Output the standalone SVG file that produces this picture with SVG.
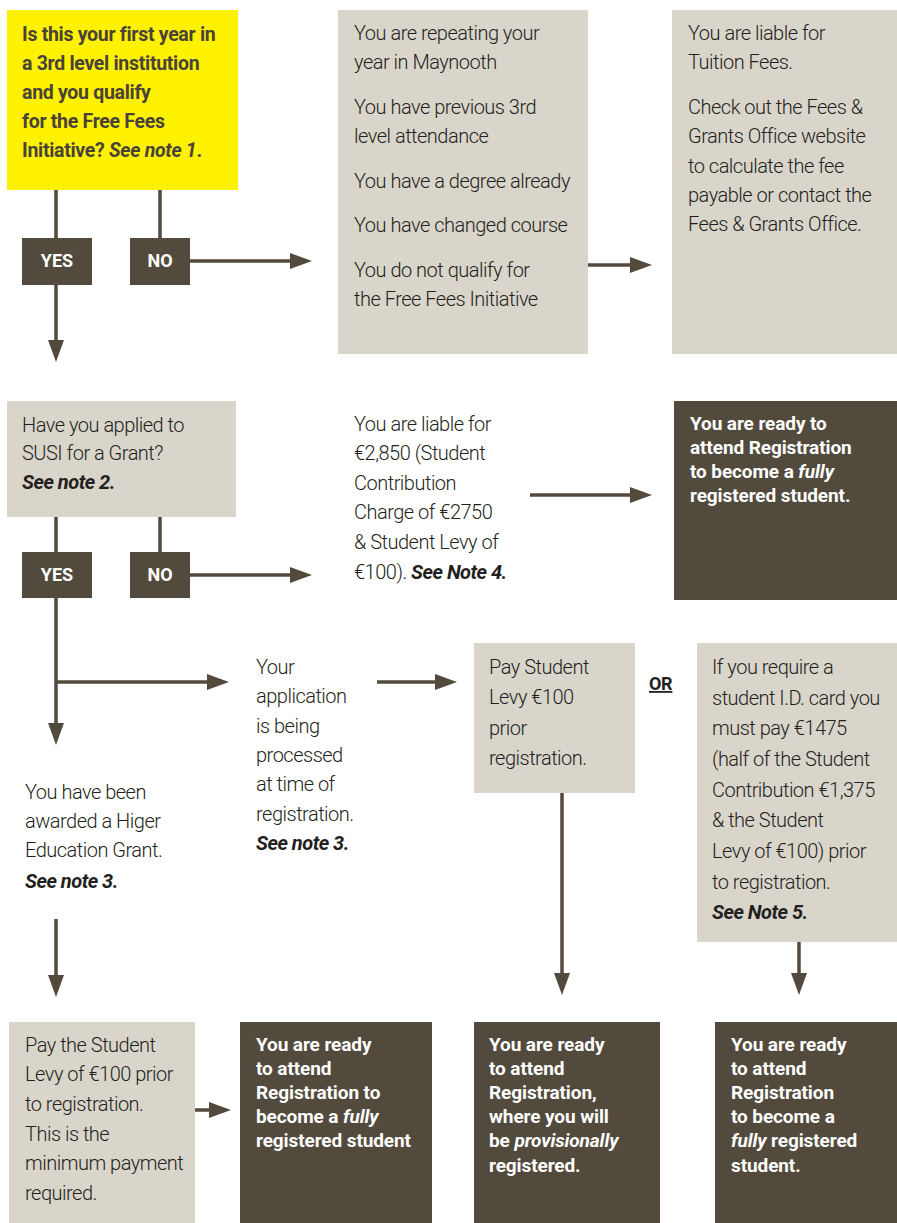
<svg xmlns="http://www.w3.org/2000/svg" width="897" height="1223" viewBox="0 0 897 1223">
<defs>
<style>
.bg{fill:#ffffff}
.yel{fill:#fff200}
.gry{fill:#d9d5cb}
.drk{fill:#524a3d}
.t{font-family:Roboto,"Liberation Sans",sans-serif;font-size:20px;font-weight:300;fill:#231f20;letter-spacing:-0.5px}
.ty{font-family:Roboto,"Liberation Sans",sans-serif;font-size:19.5px;font-weight:700;fill:#4a4238;letter-spacing:-0.3px}
.tw{font-family:Roboto,"Liberation Sans",sans-serif;font-size:19px;font-weight:700;fill:#ffffff;letter-spacing:-0.1px}
.lab{font-family:Roboto,"Liberation Sans",sans-serif;font-size:18px;font-weight:700;fill:#ffffff;text-anchor:middle}
.b{font-weight:700;font-style:italic}
.i{font-style:italic}
.ln{stroke:#524a3d;stroke-width:3.5;fill:none}
.arr{marker-end:url(#ah)}
</style>
<marker id="ah" markerWidth="22" markerHeight="16" refX="12" refY="8" orient="auto" markerUnits="userSpaceOnUse">
<path d="M0,0 L22,8 L0,16 z" fill="#524a3d"/>
</marker>
</defs>
<rect class="bg" x="0" y="0" width="897" height="1223"/>

<g id="connectors">
<line class="ln" x1="56" y1="190" x2="56" y2="238"/>
<line class="ln" x1="160" y1="190" x2="160" y2="238"/>
<line class="ln arr" x1="190" y1="261" x2="302" y2="261"/>
<line class="ln arr" x1="56" y1="285" x2="56" y2="352"/>
<line class="ln arr" x1="588" y1="265" x2="642" y2="265"/>
<line class="ln" x1="56" y1="517" x2="56" y2="552"/>
<line class="ln" x1="160" y1="517" x2="160" y2="552"/>
<line class="ln arr" x1="190" y1="575" x2="302" y2="575"/>
<line class="ln arr" x1="530" y1="495" x2="642" y2="495"/>
<line class="ln arr" x1="56" y1="598" x2="56" y2="735"/>
<line class="ln arr" x1="56" y1="682" x2="219" y2="682"/>
<line class="ln arr" x1="377" y1="682" x2="447" y2="682"/>
<line class="ln arr" x1="562" y1="793" x2="562" y2="985"/>
<line class="ln arr" x1="799" y1="942" x2="799" y2="985"/>
<line class="ln arr" x1="56" y1="919" x2="56" y2="987"/>
<line class="ln arr" x1="195" y1="1110" x2="221" y2="1110"/>
</g>

<g id="q1">
<rect class="yel" x="7" y="10" width="231" height="180"/>
<text class="ty" x="22" y="41">Is this your first year in</text>
<text class="ty" x="22" y="70">a 3rd level institution</text>
<text class="ty" x="22" y="99">and you qualify</text>
<text class="ty" x="22" y="128">for the Free Fees</text>
<text class="ty" x="22" y="157">Initiative? <tspan class="i">See note 1</tspan>.</text>
</g>

<g id="yes1"><rect class="drk" x="22" y="238" width="70" height="47"/><text class="lab" x="57" y="267">YES</text></g>
<g id="no1"><rect class="drk" x="130" y="238" width="60" height="47"/><text class="lab" x="160" y="267">NO</text></g>

<g id="repeat">
<rect class="gry" x="338" y="10" width="250" height="344"/>
<text class="t" x="354" y="40">You are repeating your</text>
<text class="t" x="354" y="69">year in Maynooth</text>
<text class="t" x="354" y="114">You have previous 3rd</text>
<text class="t" x="354" y="143">level attendance</text>
<text class="t" x="354" y="188">You have a degree already</text>
<text class="t" x="354" y="232">You have changed course</text>
<text class="t" x="354" y="277">You do not qualify for</text>
<text class="t" x="354" y="306">the Free Fees Initiative</text>
</g>

<g id="tuition">
<rect class="gry" x="672" y="10" width="225" height="344"/>
<text class="t" x="688" y="40">You are liable for</text>
<text class="t" x="688" y="69">Tuition Fees.</text>
<text class="t" x="688" y="114">Check out the Fees &amp;</text>
<text class="t" x="688" y="143">Grants Office website</text>
<text class="t" x="688" y="173">to calculate the fee</text>
<text class="t" x="688" y="202">payable or contact the</text>
<text class="t" x="688" y="231">Fees &amp; Grants Office.</text>
</g>

<g id="q2">
<rect class="gry" x="7" y="401" width="229" height="116"/>
<text class="t" x="22" y="432">Have you applied to</text>
<text class="t" x="22" y="460">SUSI for  a Grant?</text>
<text class="t b" x="22" y="489">See note 2.</text>
</g>

<g id="yes2"><rect class="drk" x="22" y="552" width="70" height="46"/><text class="lab" x="57" y="581">YES</text></g>
<g id="no2"><rect class="drk" x="130" y="552" width="60" height="46"/><text class="lab" x="160" y="581">NO</text></g>

<g id="liable">
<text class="t" x="354" y="431">You are liable for</text>
<text class="t" x="354" y="460">€2,850 (Student</text>
<text class="t" x="354" y="490">Contribution</text>
<text class="t" x="354" y="519">Charge of €2750</text>
<text class="t" x="354" y="549">&amp; Student Levy of</text>
<text class="t" x="354" y="579">€100). <tspan class="b">See Note 4.</tspan></text>
</g>

<g id="ready1">
<rect class="drk" x="674" y="401" width="223" height="199"/>
<text class="tw" x="690" y="430">You are ready to</text>
<text class="tw" x="690" y="454">attend Registration</text>
<text class="tw" x="690" y="478">to become a <tspan class="i">fully</tspan></text>
<text class="tw" x="690" y="502">registered student.</text>
</g>

<g id="processing">
<text class="t" x="256" y="674">Your</text>
<text class="t" x="256" y="703">application</text>
<text class="t" x="256" y="733">is being</text>
<text class="t" x="256" y="762">processed</text>
<text class="t" x="256" y="791">at time of</text>
<text class="t" x="256" y="821">registration.</text>
<text class="t b" x="256" y="850">See note 3.</text>
</g>

<g id="paylevy">
<rect class="gry" x="474" y="643" width="161" height="150"/>
<text class="t" x="489" y="674">Pay Student</text>
<text class="t" x="489" y="704">Levy €100</text>
<text class="t" x="489" y="735">prior</text>
<text class="t" x="489" y="765">registration.</text>
</g>

<g id="or"><text class="ty" x="649" y="690" text-decoration="underline" style="fill:#231f20;font-size:18px">OR</text></g>

<g id="idcard">
<rect class="gry" x="697" y="643" width="200" height="299"/>
<text class="t" x="712" y="674">If you require a</text>
<text class="t" x="712" y="705">student I.D. card you</text>
<text class="t" x="712" y="735">must pay €1475</text>
<text class="t" x="712" y="766">(half of the Student</text>
<text class="t" x="712" y="797">Contribution €1,375</text>
<text class="t" x="712" y="827">&amp; the Student</text>
<text class="t" x="712" y="858">Levy of €100) prior</text>
<text class="t" x="712" y="889">to registration.</text>
<text class="t b" x="712" y="919">See Note 5.</text>
</g>

<g id="awarded">
<text class="t" x="25" y="799">You have been</text>
<text class="t" x="25" y="828">awarded a Higer</text>
<text class="t" x="25" y="857">Education Grant.</text>
<text class="t b" x="25" y="888">See note 3.</text>
</g>

<g id="minpay">
<rect class="gry" x="9" y="1022" width="186" height="201"/>
<text class="t" x="25" y="1052">Pay the Student</text>
<text class="t" x="25" y="1081">Levy of €100 prior</text>
<text class="t" x="25" y="1111">to registration.</text>
<text class="t" x="25" y="1141">This is the</text>
<text class="t" x="25" y="1170">minimum payment</text>
<text class="t" x="25" y="1200">required.</text>
</g>

<g id="ready2">
<rect class="drk" x="240" y="1022" width="192" height="201"/>
<text class="tw" x="256" y="1051">You are ready</text>
<text class="tw" x="256" y="1075">to attend</text>
<text class="tw" x="256" y="1099">Registration to</text>
<text class="tw" x="256" y="1123">become a <tspan class="i">fully</tspan></text>
<text class="tw" x="256" y="1147">registered student</text>
</g>

<g id="ready3">
<rect class="drk" x="474" y="1022" width="186" height="201"/>
<text class="tw" x="489" y="1051">You are ready</text>
<text class="tw" x="489" y="1075">to attend</text>
<text class="tw" x="489" y="1099">Registration,</text>
<text class="tw" x="489" y="1123">where you will</text>
<text class="tw" x="489" y="1147">be <tspan class="i">provisionally</tspan></text>
<text class="tw" x="489" y="1172">registered.</text>
</g>

<g id="ready4">
<rect class="drk" x="715" y="1022" width="182" height="201"/>
<text class="tw" x="731" y="1051">You are ready</text>
<text class="tw" x="731" y="1075">to attend</text>
<text class="tw" x="731" y="1099">Registration</text>
<text class="tw" x="731" y="1123">to become a</text>
<text class="tw" x="731" y="1147"><tspan class="i">fully</tspan> registered</text>
<text class="tw" x="731" y="1172">student.</text>
</g>
</svg>
